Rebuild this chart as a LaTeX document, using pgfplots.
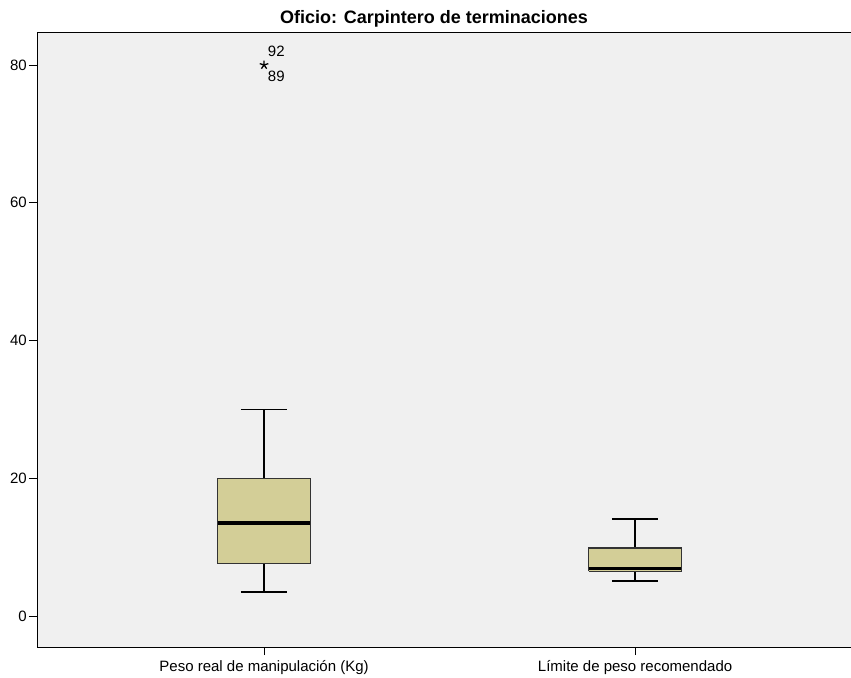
\documentclass[border=0pt]{standalone}
\usepackage{fontspec}
\setmainfont{Liberation Sans}
\usepackage{pgfplots}
\pgfplotsset{compat=1.18}
\definecolor{boxfill}{HTML}{D3CE97}
\definecolor{boxedge}{HTML}{333333}
\definecolor{bg}{HTML}{F0F0F0}
\begin{document}
\begin{tikzpicture}
\begin{axis}[
  scale only axis, width=814bp, height=614bp,
  xmin=0.388, xmax=2.582, ymin=-4.5, ymax=84.65,
  axis background/.style={fill=bg},
  axis line style={black, line width=1bp},
  xtick={1,2},
  xticklabels={Peso real de manipulación (Kg), Límite de peso recomendado},
  ytick={0,20,40,60,80},
  tick pos=left, tick align=outside, major tick length=8bp,
  tick style={black, line width=1bp},
  ticklabel style={font=\fontsize{15bp}{17bp}\selectfont},
  yticklabel style={inner sep=0pt, xshift=-2bp},
  xticklabel style={inner sep=0pt, text height=11bp, text depth=3bp, yshift=-5bp},
  /pgf/number format/assume math mode=true,
  clip=false,
  every axis plot/.append style={forget plot},
]
% ---- box 1: Peso real de manipulacion (Kg)
\addplot[black, line width=1.5bp] coordinates {(1,20) (1,30)};
\addplot[black, line width=1.5bp] coordinates {(1,7.6) (1,3.5)};
\addplot[black, line width=1.5bp] coordinates {(0.9375,30) (1.0625,30)};
\addplot[black, line width=1.5bp] coordinates {(0.9375,3.5) (1.0625,3.5)};
\addplot[draw=boxedge, fill=boxfill, line width=1.4bp, line join=miter]
  coordinates {(0.875,7.6) (1.125,7.6) (1.125,20) (0.875,20) (0.875,7.6)};
\addplot[black, line width=3.2bp] coordinates {(0.875,13.5) (1.125,13.5)};
\addplot[only marks, mark=star, mark size=4.5bp, mark options={black, line width=1.3bp}]
  coordinates {(1,80)};
% ---- box 2: Limite de peso recomendado
\addplot[black, line width=1.5bp] coordinates {(2,9.85) (2,14.1)};
\addplot[black, line width=1.5bp] coordinates {(2,6.5) (2,5.1)};
\addplot[black, line width=1.5bp] coordinates {(1.9375,14.1) (2.0625,14.1)};
\addplot[black, line width=1.5bp] coordinates {(1.9375,5.1) (2.0625,5.1)};
\addplot[draw=boxedge, fill=boxfill, line width=1.4bp, line join=miter]
  coordinates {(1.875,6.5) (2.125,6.5) (2.125,9.85) (1.875,9.85) (1.875,6.5)};
\addplot[black, line width=3.2bp] coordinates {(1.875,6.85) (2.125,6.85)};
\node[anchor=west, inner sep=0pt, font=\fontsize{15bp}{17bp}\selectfont] at (axis cs:1.010,82.0) {92};
\node[anchor=west, inner sep=0pt, font=\fontsize{15bp}{17bp}\selectfont] at (axis cs:1.010,78.3) {89};
\end{axis}
\node[anchor=base, font=\bfseries\fontsize{18bp}{20bp}\selectfont] at ([xshift=-10bp, yshift=9bp]current axis.north) {Oficio: Carpintero de terminaciones};
\pgfresetboundingbox
\path ([xshift=-37bp,yshift=-31bp]current axis.south west) rectangle ([yshift=33bp]current axis.north east);
\end{tikzpicture}
\end{document}
